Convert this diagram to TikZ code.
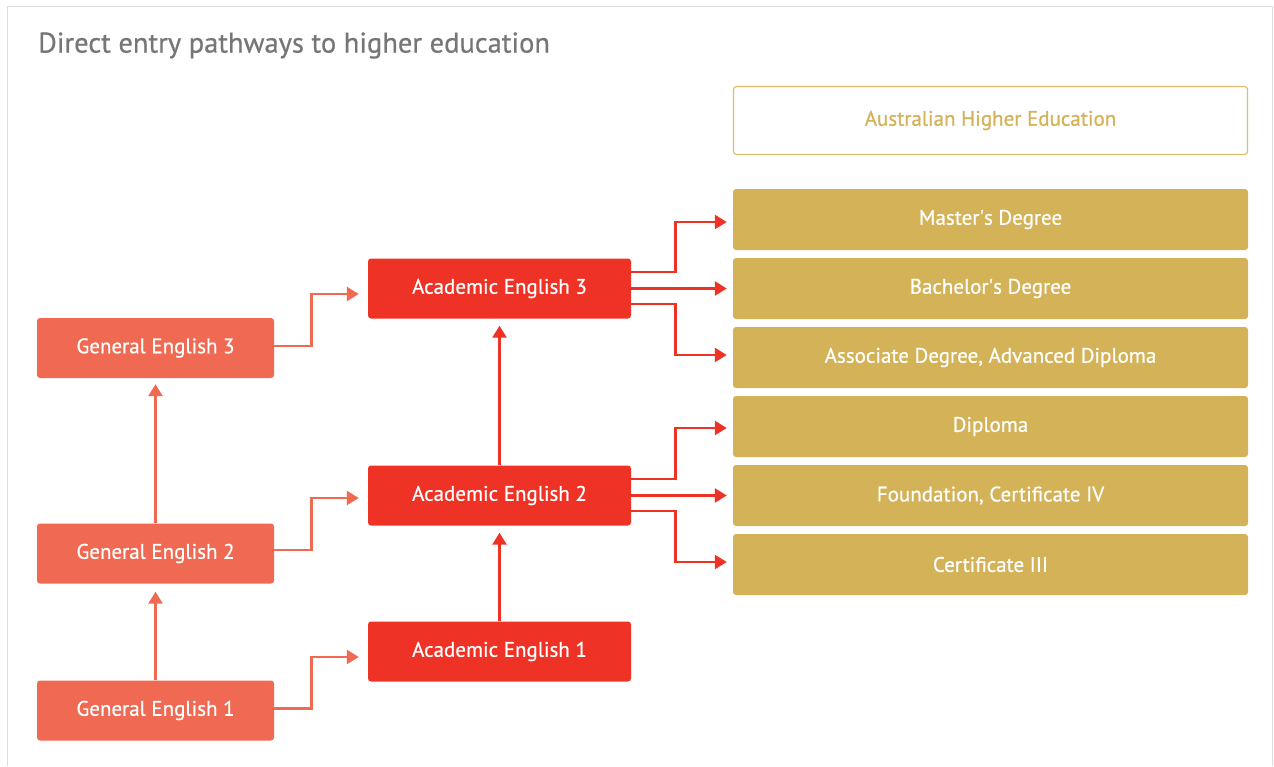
\documentclass[tikz,border=0pt]{standalone}
\usepackage{fontspec}
\setmainfont{PT Sans}
\newfontfamily\medfont{PT Sans}[FakeBold=0.6]
\usetikzlibrary{arrows.meta}
\definecolor{gecol}{HTML}{F06A53}
\definecolor{aecol}{HTML}{EE3326}
\definecolor{gold}{HTML}{D4B257}
\definecolor{goldline}{HTML}{DDBE6A}
\definecolor{titlegray}{HTML}{767676}
\definecolor{frame}{HTML}{DDDDDD}
\begin{document}
\begin{tikzpicture}[x=1pt,y=-1pt,
  box/.style={rounded corners=3pt, minimum height=60pt, inner sep=0pt, text=white, font=\medfont\fontsize{21}{24}\selectfont},
  gebox/.style={box, fill=gecol, minimum width=237pt},
  aebox/.style={box, fill=aecol, minimum width=263pt},
  hebox/.style={box, fill=gold, minimum width=515pt, minimum height=61pt},
  gearr/.style={draw=gecol, line width=2.6pt, -{Triangle[length=12pt,width=14pt]}},
  aearr/.style={draw=aecol, line width=2.6pt, -{Triangle[length=12pt,width=14pt]}},
]
\useasboundingbox (0,0) rectangle (1274,766);
\draw[frame, line width=1pt] (7.5,766) -- (7.5,6.5) -- (1272.5,6.5) -- (1272.5,766);
\node[anchor=west, text=titlegray, font=\medfont\fontsize{28.5}{32}\selectfont, inner sep=0pt] (title) at (38,45.5) {Direct entry pathways to higher education};

\node[gebox] (ge1) at (155.5,710.5) {General English 1};
\node[gebox] (ge2) at (155.5,553.5) {General English 2};
\node[gebox] (ge3) at (155.5,348) {General English 3};

\node[aebox] (ae1) at (499.5,651.5) {Academic English 1};
\node[aebox] (ae2) at (499.5,495.5) {Academic English 2};
\node[aebox] (ae3) at (499.5,288.5) {Academic English 3};

\node[box, draw=goldline, line width=1.2pt, fill=white, text=gold, minimum width=514pt, minimum height=68pt] (aus) at (990.5,120.5) {Australian Higher Education};
\node[hebox] (mas) at (990.5,219.5) {Master\textquotesingle s Degree};
\node[hebox] (bac) at (990.5,288.5) {Bachelor\textquotesingle s Degree};
\node[hebox] (asc) at (990.5,357.5) {Associate Degree, Advanced Diploma};
\node[hebox] (dip) at (990.5,426.5) {Diploma};
\node[hebox] (fou) at (990.5,495.5) {Foundation, Certificate IV};
\node[hebox] (ce3) at (990.5,564.5) {Certificate III};

% General English arrows
\draw[gearr] (ge1.north) -- ([yshift=-8pt]ge2.south);
\draw[gearr] (ge2.north) -- ([yshift=-6pt]ge3.south);
\draw[gearr] ([yshift=2pt]ge1.east) -- ++(37,0) |- ([xshift=-9pt,yshift=-5.5pt]ae1.west);
\draw[gearr] ([yshift=3.5pt]ge2.east) -- ++(37,0) |- ([xshift=-9pt,yshift=-2.5pt]ae2.west);
\draw[gearr] ([yshift=2pt]ge3.east) -- ++(37,0) |- ([xshift=-9pt,yshift=-5.5pt]ae3.west);

% Academic English arrows
\draw[aearr] (ae1.north) -- ([yshift=-7pt]ae2.south);
\draw[aearr] (ae2.north) -- ([yshift=-7pt]ae3.south);
\draw[aearr] ([yshift=16.5pt]ae3.east) -- ++(44,0) |- ([xshift=-6pt,yshift=-2.5pt]mas.west);
\draw[aearr] (ae3.east) -- ([xshift=-6pt]bac.west);
\draw[aearr] ([yshift=-15.5pt]ae3.east) -- ++(44,0) |- ([xshift=-6pt,yshift=2.5pt]asc.west);
\draw[aearr] ([yshift=16.5pt]ae2.east) -- ++(44,0) |- ([xshift=-6pt,yshift=-1.5pt]dip.west);
\draw[aearr] (ae2.east) -- ([xshift=-6pt]fou.west);
\draw[aearr] ([yshift=-15.5pt]ae2.east) -- ++(44,0) |- ([xshift=-6pt,yshift=2.5pt]ce3.west);
\end{tikzpicture}
\end{document}
